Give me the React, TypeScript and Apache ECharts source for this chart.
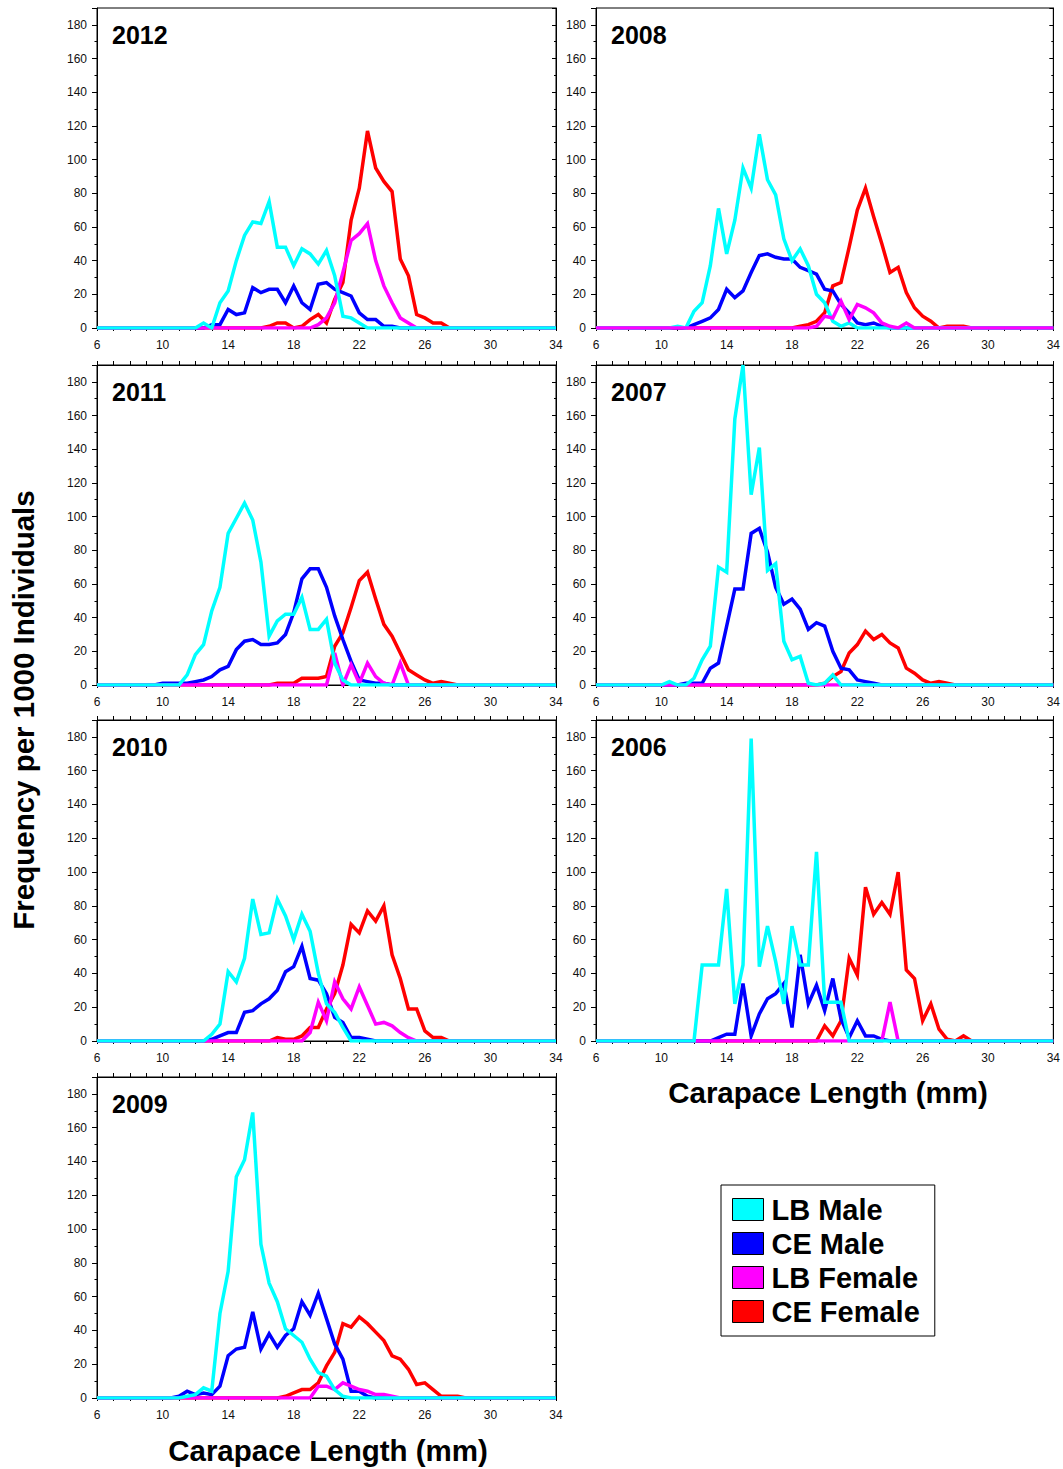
import React, { useEffect, useRef } from "react";
import * as echarts from "echarts";

// ---------- data (values every 0.5 mm, starting at the given length) ----------
const X_MIN = 6;
const X_MAX = 34;
const STEP = 0.5;

const SERIES_NAMES = ["LB Male", "CE Male", "LB Female", "CE Female"];
const SERIES_COLORS = ["#00FFFF", "#0000FF", "#FF00FF", "#FF0000"];

// 2012
const LB_MALE_2012_START = 12;
const LB_MALE_2012 = [0, 3, 0, 15, 22, 40, 55, 63, 62, 75, 48, 48, 37, 47, 44, 38, 46, 31, 7, 6, 3, 0];
const CE_MALE_2012_START = 12.5;
const CE_MALE_2012 = [0, 2, 2, 11, 8, 9, 24, 21, 23, 23, 15, 25, 15, 11, 26, 27, 23, 21, 19, 9, 5, 5, 1, 1, 0];
const LB_FEMALE_2012_START = 19;
const LB_FEMALE_2012 = [0, 2, 6, 15, 33, 52, 56, 62, 40, 25, 15, 6, 3, 0];
const CE_FEMALE_2012_START = 16;
const CE_FEMALE_2012 = [0, 1, 3, 3, 0, 1, 5, 8, 3, 17, 27, 64, 83, 117, 95, 87, 81, 41, 31, 8, 6, 3, 3, 0];

// 2008
const LB_MALE_2008_START = 10.5;
const LB_MALE_2008 = [0, 1, 0, 10, 15, 37, 71, 44, 64, 95, 83, 115, 88, 79, 53, 40, 47, 37, 20, 15, 4, 1, 3, 0];
const CE_MALE_2008_START = 11.5;
const CE_MALE_2008 = [0, 2, 4, 6, 11, 23, 18, 22, 33, 43, 44, 42, 41, 41, 36, 34, 32, 23, 22, 14, 9, 3, 2, 3, 1, 0];
const LB_FEMALE_2008_START = 19;
const LB_FEMALE_2008 = [0, 1, 7, 6, 16, 5, 14, 12, 9, 3, 1, 0, 3, 0];
const CE_FEMALE_2008_START = 18;
const CE_FEMALE_2008 = [0, 1, 2, 4, 9, 25, 27, 48, 70, 83, 66, 50, 33, 36, 21, 12, 7, 4, 0, 1, 1, 1, 0];

// 2011
const LB_MALE_2011_START = 11;
const LB_MALE_2011 = [0, 6, 18, 24, 44, 58, 90, 99, 108, 98, 73, 29, 38, 42, 42, 52, 33, 33, 39, 13, 3, 0];
const CE_MALE_2011_START = 9.5;
const CE_MALE_2011 = [0, 1, 1, 1, 1, 2, 3, 5, 9, 11, 21, 26, 27, 24, 24, 25, 30, 43, 63, 69, 69, 58, 41, 27, 14, 3, 2, 1, 1, 0];
const LB_FEMALE_2011_START = 20;
const LB_FEMALE_2011 = [0, 19, 0, 12, 1, 13, 5, 1, 0, 13, 0];
const CE_FEMALE_2011_START = 16.5;
const CE_FEMALE_2011 = [0, 1, 1, 1, 4, 4, 4, 5, 23, 31, 46, 62, 67, 51, 36, 29, 19, 9, 6, 3, 1, 2, 1, 0];

// 2007
const LB_MALE_2007_START = 10;
const LB_MALE_2007 = [0, 2, 0, 0, 4, 15, 23, 70, 67, 158, 190, 113, 141, 68, 72, 26, 15, 17, 1, 0, 1, 6, 0];
const CE_MALE_2007_START = 11;
const CE_MALE_2007 = [0, 1, 1, 1, 10, 13, 35, 57, 57, 90, 93, 79, 58, 48, 51, 45, 33, 37, 35, 20, 10, 9, 3, 2, 1, 0];
const LB_FEMALE_2007_START = 6;
const LB_FEMALE_2007 = [0];
const CE_FEMALE_2007_START = 19.5;
const CE_FEMALE_2007 = [0, 1, 5, 8, 19, 24, 32, 27, 30, 25, 22, 10, 7, 3, 1, 2, 1, 0];

// 2010
const LB_MALE_2010_START = 12;
const LB_MALE_2010 = [0, 0, 4, 10, 41, 35, 49, 84, 63, 64, 84, 74, 60, 75, 65, 40, 22, 17, 8, 0];
const CE_MALE_2010_START = 12.5;
const CE_MALE_2010 = [0, 1, 3, 5, 5, 17, 18, 22, 25, 30, 41, 44, 56, 37, 36, 28, 14, 11, 2, 2, 1, 0];
const LB_FEMALE_2010_START = 18.5;
const LB_FEMALE_2010 = [0, 5, 23, 12, 35, 25, 19, 32, 21, 10, 11, 9, 5, 2, 0];
const CE_FEMALE_2010_START = 16.5;
const CE_FEMALE_2010 = [0, 2, 1, 1, 3, 8, 8, 19, 28, 45, 69, 64, 77, 71, 80, 51, 37, 19, 19, 6, 2, 2, 0];

// 2006
const LB_MALE_2006_START = 12;
const LB_MALE_2006 = [0, 45, 45, 45, 90, 22, 45, 179, 44, 68, 47, 22, 68, 45, 45, 112, 23, 23, 23, 0];
const CE_MALE_2006_START = 13;
const CE_MALE_2006 = [0, 2, 4, 4, 34, 3, 16, 25, 28, 34, 8, 51, 22, 33, 18, 37, 13, 2, 12, 3, 3, 1, 0];
const LB_FEMALE_2006_START = 23.5;
const LB_FEMALE_2006 = [0, 23, 0];
const CE_FEMALE_2006_START = 19.5;
const CE_FEMALE_2006 = [0, 9, 3, 12, 49, 39, 91, 75, 82, 75, 100, 42, 37, 12, 22, 7, 1, 0, 3, 0];

// 2009
const LB_MALE_2009_START = 11;
const LB_MALE_2009 = [0, 1, 2, 6, 4, 50, 75, 131, 141, 169, 91, 68, 57, 41, 37, 33, 23, 15, 13, 5, 1, 0];
const CE_MALE_2009_START = 10.5;
const CE_MALE_2009 = [0, 1, 4, 2, 3, 2, 7, 25, 29, 30, 51, 29, 38, 30, 37, 41, 57, 49, 62, 47, 32, 23, 4, 4, 1, 0];
const LB_FEMALE_2009_START = 19;
const LB_FEMALE_2009 = [0, 7, 7, 5, 9, 7, 5, 4, 2, 2, 1, 0];
const CE_FEMALE_2009_START = 17;
const CE_FEMALE_2009 = [0, 1, 3, 5, 5, 9, 19, 27, 44, 42, 48, 44, 39, 34, 25, 23, 17, 8, 9, 5, 1, 1, 1, 0];

const X_LABELS = [6, 10, 14, 18, 22, 26, 30, 34];
const Y_LABELS = [0, 20, 40, 60, 80, 100, 120, 140, 160, 180];

// ---------- layout ----------
const FONT = '"Liberation Sans", Arial, Helvetica, sans-serif';
const COL_LEFT = [97, 596];
const COL_WIDTH = [459, 458];
const ROW_TOP = [8, 365, 720, 1077];
const ROW_HEIGHT = [320, 320, 321, 321];

type Panel = {
  year: string;
  row: number;
  col: number;
  lines: { start: number; values: number[] }[]; // in SERIES_NAMES order
  order: number[]; // drawing order (last on top)
};

const PANELS: Panel[] = [
  {
    year: "2012", row: 0, col: 0,
    lines: [
      { start: LB_MALE_2012_START, values: LB_MALE_2012 },
      { start: CE_MALE_2012_START, values: CE_MALE_2012 },
      { start: LB_FEMALE_2012_START, values: LB_FEMALE_2012 },
      { start: CE_FEMALE_2012_START, values: CE_FEMALE_2012 },
    ],
    order: [3, 1, 2, 0],
  },
  {
    year: "2008", row: 0, col: 1,
    lines: [
      { start: LB_MALE_2008_START, values: LB_MALE_2008 },
      { start: CE_MALE_2008_START, values: CE_MALE_2008 },
      { start: LB_FEMALE_2008_START, values: LB_FEMALE_2008 },
      { start: CE_FEMALE_2008_START, values: CE_FEMALE_2008 },
    ],
    order: [3, 1, 0, 2],
  },
  {
    year: "2011", row: 1, col: 0,
    lines: [
      { start: LB_MALE_2011_START, values: LB_MALE_2011 },
      { start: CE_MALE_2011_START, values: CE_MALE_2011 },
      { start: LB_FEMALE_2011_START, values: LB_FEMALE_2011 },
      { start: CE_FEMALE_2011_START, values: CE_FEMALE_2011 },
    ],
    order: [3, 1, 2, 0],
  },
  {
    year: "2007", row: 1, col: 1,
    lines: [
      { start: LB_MALE_2007_START, values: LB_MALE_2007 },
      { start: CE_MALE_2007_START, values: CE_MALE_2007 },
      { start: LB_FEMALE_2007_START, values: LB_FEMALE_2007 },
      { start: CE_FEMALE_2007_START, values: CE_FEMALE_2007 },
    ],
    order: [3, 1, 2, 0],
  },
  {
    year: "2010", row: 2, col: 0,
    lines: [
      { start: LB_MALE_2010_START, values: LB_MALE_2010 },
      { start: CE_MALE_2010_START, values: CE_MALE_2010 },
      { start: LB_FEMALE_2010_START, values: LB_FEMALE_2010 },
      { start: CE_FEMALE_2010_START, values: CE_FEMALE_2010 },
    ],
    order: [3, 1, 2, 0],
  },
  {
    year: "2006", row: 2, col: 1,
    lines: [
      { start: LB_MALE_2006_START, values: LB_MALE_2006 },
      { start: CE_MALE_2006_START, values: CE_MALE_2006 },
      { start: LB_FEMALE_2006_START, values: LB_FEMALE_2006 },
      { start: CE_FEMALE_2006_START, values: CE_FEMALE_2006 },
    ],
    order: [3, 1, 2, 0],
  },
  {
    year: "2009", row: 3, col: 0,
    lines: [
      { start: LB_MALE_2009_START, values: LB_MALE_2009 },
      { start: CE_MALE_2009_START, values: CE_MALE_2009 },
      { start: LB_FEMALE_2009_START, values: LB_FEMALE_2009 },
      { start: CE_FEMALE_2009_START, values: CE_FEMALE_2009 },
    ],
    order: [3, 1, 2, 0],
  },
];

function toPoints(start: number, values: number[]): number[][] {
  const pts: number[][] = [];
  if (start > X_MIN) pts.push([X_MIN, 0]);
  values.forEach((v, i) => pts.push([start + i * STEP, v]));
  const last = start + (values.length - 1) * STEP;
  if (last < X_MAX) pts.push([X_MAX, 0]);
  return pts;
}

function buildOption() {
  const grid: any[] = [];
  const xAxis: any[] = [];
  const yAxis: any[] = [];
  const series: any[] = [];
  const graphic: any[] = [];

  const axisLineStyle = { color: "#000", width: 1 };
  const labelStyle = { fontFamily: FONT, fontSize: 12, color: "#111" };

  PANELS.forEach((p, i) => {
    const left = COL_LEFT[p.col];
    const top = ROW_TOP[p.row];
    const width = COL_WIDTH[p.col];
    const height = ROW_HEIGHT[p.row];
    grid.push({
      left, top, width, height,
      show: true,
      borderColor: "#000",
      borderWidth: 1,
      backgroundColor: "transparent",
      containLabel: false,
    });

    const bottomIdx = xAxis.length;
    xAxis.push({
      gridIndex: i,
      type: "value",
      position: "bottom",
      min: X_MIN,
      max: X_MAX,
      interval: 1,
      axisLine: { show: true, onZero: false, lineStyle: axisLineStyle },
      axisTick: { show: true, length: 3, lineStyle: axisLineStyle },
      axisLabel: {
        ...labelStyle,
        margin: 11,
        formatter: (v: number) => (X_LABELS.includes(v) ? String(v) : ""),
      },
      splitLine: { show: false },
    });
    if (p.row > 0) {
      xAxis.push({
        gridIndex: i,
        type: "value",
        position: "top",
        min: X_MIN,
        max: X_MAX,
        interval: 1,
        axisLine: { show: true, onZero: false, lineStyle: axisLineStyle },
        axisTick: { show: true, length: 4, lineStyle: axisLineStyle },
        axisLabel: { show: false },
        splitLine: { show: false },
      });
    }

    const leftIdx = yAxis.length;
    yAxis.push({
      gridIndex: i,
      type: "value",
      position: "left",
      min: 0,
      max: 190,
      interval: 20,
      axisLine: { show: true, lineStyle: axisLineStyle },
      axisTick: { show: true, length: 5, lineStyle: axisLineStyle },
      minorTick: { show: true, splitNumber: 2, length: 2.5, lineStyle: axisLineStyle },
      axisLabel: {
        ...labelStyle,
        margin: 10,
        formatter: (v: number) => (Y_LABELS.includes(v) ? String(v) : ""),
      },
      splitLine: { show: false },
    });
    yAxis.push({
      gridIndex: i,
      type: "value",
      position: "right",
      min: 0,
      max: 190,
      interval: 20,
      axisLine: { show: true, lineStyle: axisLineStyle },
      axisTick: { show: true, inside: true, length: 4, lineStyle: axisLineStyle },
      minorTick: { show: true, splitNumber: 2, length: 2, lineStyle: axisLineStyle },
      axisLabel: { show: false },
      splitLine: { show: false },
    });

    p.order.forEach((k) => {
      const line = p.lines[k];
      series.push({
        name: SERIES_NAMES[k],
        type: "line",
        xAxisIndex: bottomIdx,
        yAxisIndex: leftIdx,
        data: toPoints(line.start, line.values),
        showSymbol: false,
        symbol: "none",
        clip: true,
        color: SERIES_COLORS[k],
        itemStyle: { color: SERIES_COLORS[k] },
        lineStyle: { color: SERIES_COLORS[k], width: 3.5, join: "miter" },
        emphasis: { disabled: true },
        silent: true,
      });
    });

    graphic.push({
      type: "text",
      x: left + 15,
      y: top + 27,
      silent: true,
      style: {
        text: p.year,
        font: `bold 25px ${FONT}`,
        fill: "#000",
        align: "left",
        verticalAlign: "middle",
      },
    });
  });

  graphic.push({
    type: "text",
    x: 23,
    y: 710,
    rotation: Math.PI / 2,
    silent: true,
    style: {
      text: "Frequency per 1000 Individuals",
      font: `bold 29.5px ${FONT}`,
      fill: "#000",
      align: "center",
      verticalAlign: "middle",
    },
  });
  graphic.push({
    type: "text",
    x: 328,
    y: 1450,
    silent: true,
    style: {
      text: "Carapace Length (mm)",
      font: `bold 29.5px ${FONT}`,
      fill: "#000",
      align: "center",
      verticalAlign: "middle",
    },
  });
  graphic.push({
    type: "text",
    x: 828,
    y: 1092,
    silent: true,
    style: {
      text: "Carapace Length (mm)",
      font: `bold 29.5px ${FONT}`,
      fill: "#000",
      align: "center",
      verticalAlign: "middle",
    },
  });

  return {
    animation: false,
    backgroundColor: "#fff",
    grid,
    xAxis,
    yAxis,
    series,
    graphic,
    legend: {
      data: SERIES_NAMES,
      orient: "vertical",
      left: 721,
      top: 1185,
      icon: "rect",
      itemWidth: 31,
      itemHeight: 22,
      itemGap: 5,
      selectedMode: false,
      borderColor: "#000",
      borderWidth: 1,
      padding: [10, 15, 10, 11],
      itemStyle: { borderColor: "#000", borderWidth: 1 },
      textStyle: {
        fontFamily: FONT,
        fontSize: 29,
        fontWeight: "bold",
        color: "#000",
        padding: [0, 0, 0, 3],
      },
    },
  };
}

export default function App() {
  const ref = useRef<HTMLDivElement | null>(null);
  useEffect(() => {
    if (!ref.current) return;
    const chart = echarts.init(ref.current, null, { renderer: "svg" });
    chart.setOption(buildOption() as any);
    return () => {
      chart.dispose();
    };
  }, []);
  return (
    <div
      ref={ref}
      style={{ position: "absolute", left: 0, top: 0, width: 1063, height: 1469, background: "#fff" }}
    />
  );
}
